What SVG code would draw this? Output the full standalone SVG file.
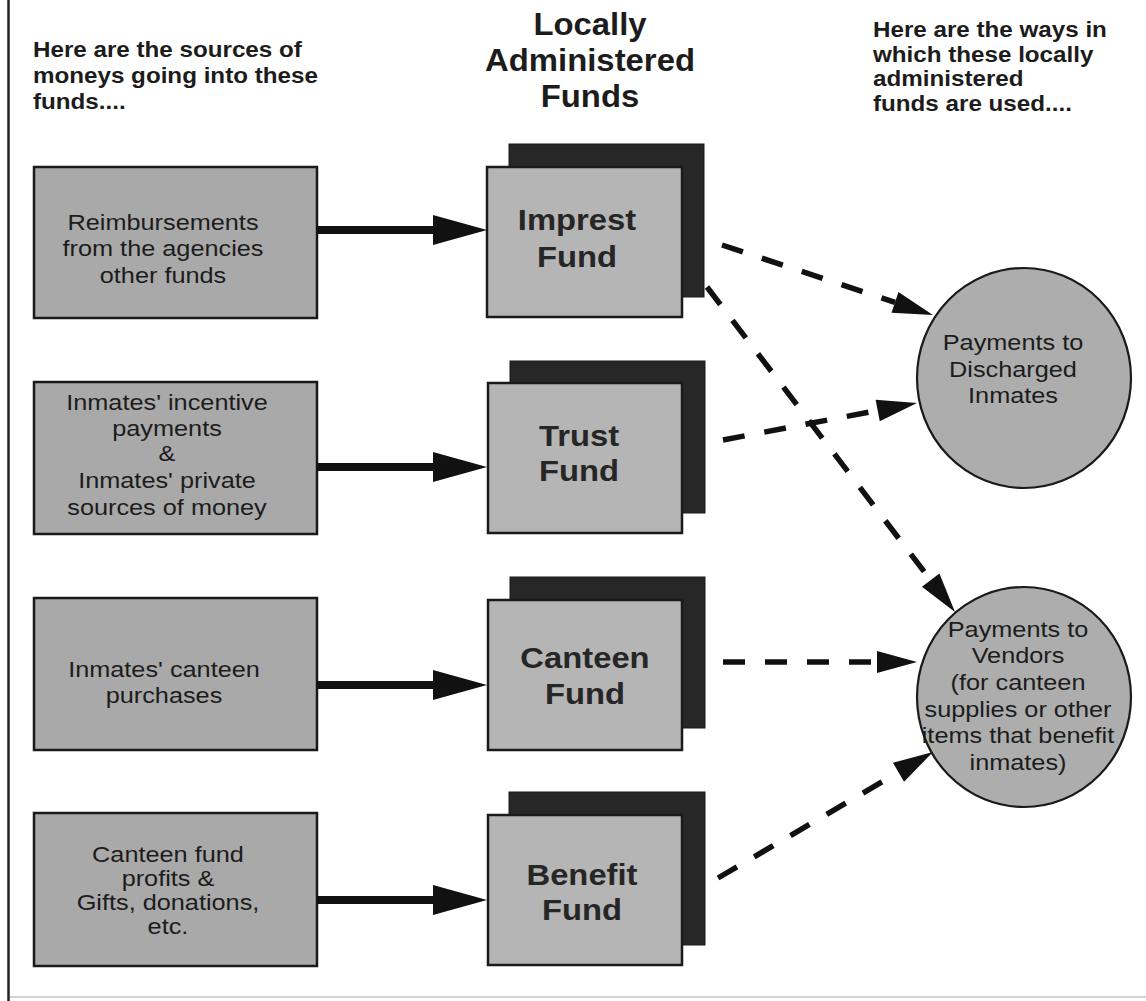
<svg xmlns="http://www.w3.org/2000/svg" width="1146" height="1001" viewBox="0 0 1146 1001">
  <style>
    text { font-family: "Liberation Sans", Arial, Helvetica, sans-serif; fill: #1c1c1c; }
    .hdr { font-size: 22px; font-weight: bold; }
    .title { font-size: 31px; font-weight: bold; text-anchor: middle; }
    .src { fill: #a9a9a9; stroke: #1a1a1a; stroke-width: 2.5; }
    .src-t { font-size: 22px; text-anchor: middle; }
    .back { fill: #272727; stroke: #1a1a1a; stroke-width: 1; }
    .front { fill: #b5b5b5; stroke: #1a1a1a; stroke-width: 2.5; }
    .fund-t { font-size: 29px; font-weight: bold; text-anchor: middle; fill: #262626; }
    .use { fill: #adadad; stroke: #1a1a1a; stroke-width: 2.2; }
    .use-t { font-size: 22px; text-anchor: middle; }
    .solid { stroke: #111; stroke-width: 8; fill: none; }
    .dash { stroke: #111; stroke-width: 5.5; fill: none; stroke-dasharray: 22 20; }
  </style>
  <defs>
    <marker id="headSolid" markerUnits="userSpaceOnUse" markerWidth="60" markerHeight="32" refX="0" refY="16" orient="auto" overflow="visible">
      <path d="M0,1 L54,16 L0,31 Z" fill="#111"/>
    </marker>
    <marker id="headDash" markerUnits="userSpaceOnUse" markerWidth="44" markerHeight="24" refX="0" refY="12" orient="auto" overflow="visible">
      <path d="M0,1 L40,12 L0,23 Z" fill="#111"/>
    </marker>
  </defs>

  <rect width="1146" height="1001" fill="#ffffff"/>

  <!-- frame -->
  <line x1="8.5" y1="0" x2="8.5" y2="1001" stroke="#222" stroke-width="2.5"/>
  <line x1="10" y1="997" x2="1146" y2="997" stroke="#d2d2d2" stroke-width="2"/>

  <!-- column headings -->
  <g id="heading-sources" transform="translate(33,0) scale(1.1,1)">
    <text class="hdr" x="0" y="57">Here are the sources of</text>
    <text class="hdr" x="0" y="83">moneys going into these</text>
    <text class="hdr" x="0" y="109">funds....</text>
  </g>
  <g id="heading-funds" transform="translate(590,0) scale(1.06,1)">
    <text class="title" x="0" y="35">Locally</text>
    <text class="title" x="0" y="71">Administered</text>
    <text class="title" x="0" y="107">Funds</text>
  </g>
  <g id="heading-uses" transform="translate(873,0) scale(1.1,1)">
    <text class="hdr" x="0" y="37">Here are the ways in</text>
    <text class="hdr" x="0" y="62">which these locally</text>
    <text class="hdr" x="0" y="86">administered</text>
    <text class="hdr" x="0" y="111">funds are used....</text>
  </g>

  <!-- sources of money -->
  <g id="src-reimbursements">
    <rect class="src" x="34" y="167" width="283" height="151"/>
    <g transform="translate(163,0) scale(1.15,1)">
      <text class="src-t" x="0" y="230">Reimbursements</text>
      <text class="src-t" x="0" y="256">from the agencies</text>
      <text class="src-t" x="0" y="283">other funds</text>
    </g>
  </g>
  <g id="src-inmate-payments">
    <rect class="src" x="34" y="382" width="283" height="152"/>
    <g transform="translate(167,0) scale(1.15,1)">
      <text class="src-t" x="0" y="410">Inmates' incentive</text>
      <text class="src-t" x="0" y="436">payments</text>
      <text class="src-t" x="0" y="461">&amp;</text>
      <text class="src-t" x="0" y="488">Inmates' private</text>
      <text class="src-t" x="0" y="515">sources of money</text>
    </g>
  </g>
  <g id="src-canteen-purchases">
    <rect class="src" x="34" y="598" width="283" height="152"/>
    <g transform="translate(164,0) scale(1.15,1)">
      <text class="src-t" x="0" y="677">Inmates' canteen</text>
      <text class="src-t" x="0" y="703">purchases</text>
    </g>
  </g>
  <g id="src-profits-gifts">
    <rect class="src" x="34" y="813" width="283" height="153"/>
    <g transform="translate(168,0) scale(1.15,1)">
      <text class="src-t" x="0" y="862">Canteen fund</text>
      <text class="src-t" x="0" y="886">profits &amp;</text>
      <text class="src-t" x="0" y="910">Gifts, donations,</text>
      <text class="src-t" x="0" y="934">etc.</text>
    </g>
  </g>

  <!-- locally administered funds -->
  <g id="fund-imprest">
    <rect class="back" x="509" y="144" width="195" height="153"/>
    <rect class="front" x="487" y="167" width="195" height="150"/>
    <g transform="translate(577,0) scale(1.13,1)">
      <text class="fund-t" x="0" y="230">Imprest</text>
      <text class="fund-t" x="0" y="267">Fund</text>
    </g>
  </g>
  <g id="fund-trust">
    <rect class="back" x="510" y="361" width="195" height="152"/>
    <rect class="front" x="488" y="383" width="194" height="150"/>
    <g transform="translate(579,0) scale(1.13,1)">
      <text class="fund-t" x="0" y="446">Trust</text>
      <text class="fund-t" x="0" y="481">Fund</text>
    </g>
  </g>
  <g id="fund-canteen">
    <rect class="back" x="510" y="577" width="195" height="151"/>
    <rect class="front" x="488" y="600" width="194" height="150"/>
    <g transform="translate(585,0) scale(1.13,1)">
      <text class="fund-t" x="0" y="668">Canteen</text>
      <text class="fund-t" x="0" y="704">Fund</text>
    </g>
  </g>
  <g id="fund-benefit">
    <rect class="back" x="509" y="792" width="196" height="153"/>
    <rect class="front" x="488" y="815" width="194" height="150"/>
    <g transform="translate(582,0) scale(1.13,1)">
      <text class="fund-t" x="0" y="885">Benefit</text>
      <text class="fund-t" x="0" y="920">Fund</text>
    </g>
  </g>

  <!-- uses of the funds -->
  <g id="use-discharged">
    <ellipse class="use" cx="1024" cy="378" rx="107" ry="110"/>
    <g transform="translate(1013,0) scale(1.15,1)">
      <text class="use-t" x="0" y="350">Payments to</text>
      <text class="use-t" x="0" y="377">Discharged</text>
      <text class="use-t" x="0" y="403">Inmates</text>
    </g>
  </g>
  <g id="use-vendors">
    <ellipse class="use" cx="1024" cy="697" rx="107" ry="110"/>
    <g transform="translate(1018,0) scale(1.15,1)">
      <text class="use-t" x="0" y="637">Payments to</text>
      <text class="use-t" x="0" y="663">Vendors</text>
      <text class="use-t" x="0" y="690">(for canteen</text>
      <text class="use-t" x="0" y="717">supplies or other</text>
      <text class="use-t" x="0" y="743">items that benefit</text>
      <text class="use-t" x="0" y="770">inmates)</text>
    </g>
  </g>

  <!-- connectors -->
  <g id="connectors">
    <line class="solid" x1="317" y1="230" x2="433" y2="230" marker-end="url(#headSolid)"/>
    <line class="solid" x1="317" y1="467" x2="433" y2="467" marker-end="url(#headSolid)"/>
    <line class="solid" x1="317" y1="685" x2="433" y2="685" marker-end="url(#headSolid)"/>
    <line class="solid" x1="317" y1="900" x2="433" y2="900" marker-end="url(#headSolid)"/>

    <line class="dash" x1="722" y1="245" x2="895" y2="302.4" marker-end="url(#headDash)"/>
    <line class="dash" x1="707" y1="287" x2="930.7" y2="580.2" marker-end="url(#headDash)"/>
    <line class="dash" x1="723" y1="440" x2="877.7" y2="410.5" marker-end="url(#headDash)"/>
    <line class="dash" x1="723" y1="662" x2="877" y2="662" marker-end="url(#headDash)"/>
    <line class="dash" x1="718" y1="878" x2="898.5" y2="772.2" marker-end="url(#headDash)"/>
  </g>
</svg>
